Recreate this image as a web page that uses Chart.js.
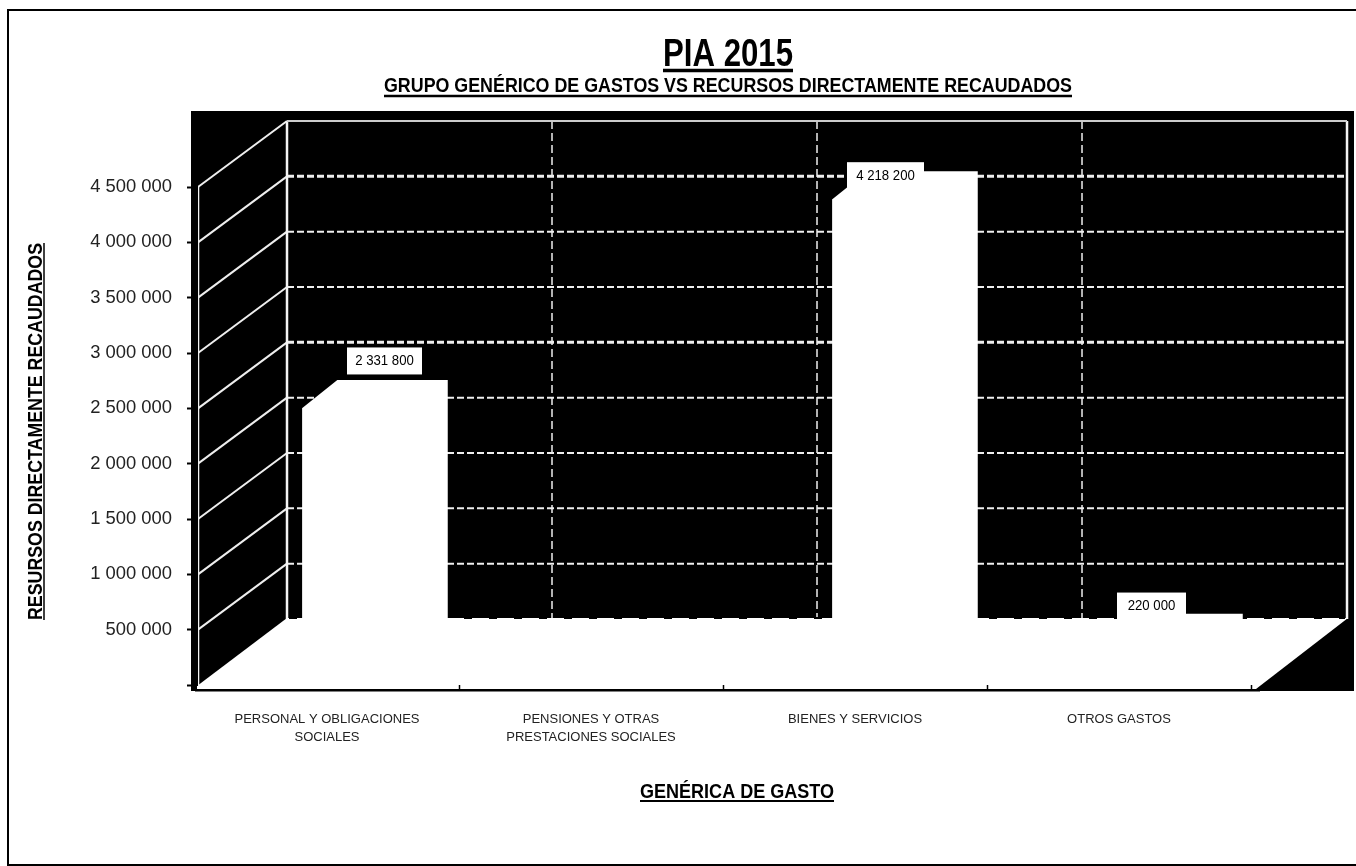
<!DOCTYPE html>
<html>
<head>
<meta charset="utf-8">
<title>PIA 2015</title>
<script src="https://cdn.jsdelivr.net/npm/chart.js@4"></script>
<style>
  html, body { margin: 0; padding: 0; background: #fff; }
  canvas { display: block; }
</style>
</head>
<body>
<canvas id="chart" width="1356" height="866"></canvas>
<script>
const categories = [
    ["PERSONAL Y OBLIGACIONES", "SOCIALES"],
    ["PENSIONES Y OTRAS", "PRESTACIONES SOCIALES"],
    "BIENES Y SERVICIOS",
    "OTROS GASTOS"
];
const values = [2331800, 0, 4218200, 220000];
const yMax = 4500000;
const yStep = 500000;
const chartTitle = "PIA 2015";
const chartSubtitle = "GRUPO GENÉRICO DE GASTOS VS RECURSOS DIRECTAMENTE RECAUDADOS";
const yTitle = "RESURSOS DIRECTAMENTE RECAUDADOS";
const xTitle = "GENÉRICA DE GASTO";

const FONT = '"Liberation Sans", Arial, sans-serif';

// fake 3D: how far the back wall sits from the front plane
const WALL_DX = 92, WALL_DY = -66, WALL_STRETCH = 1.0038;
// the bars stand part way into the floor
const BAR_SHIFT = 29.3, BAR_RISE = -19, BAR_DEPTH_X = 35, BAR_DEPTH_Y = -28;
// label boxes were moved by hand in the original: offset from bar top, box width
const labelBoxes = [
    { dx: 57.5, dy: -66, w: 75 },
    null,
    { dx: 30.5, dy: -42.5, w: 77 },
    { dx: 32.5, dy: -54.6, w: 69 }
];

function formatNumber(v) {
    return String(v).replace(/\B(?=(\d{3})+$)/g, " ");
}

function wallX(area, px) {
    return area.left + WALL_DX + (px - area.left) * WALL_STRETCH;
}

function line(ctx, x1, y1, x2, y2) {
    ctx.beginPath();
    ctx.moveTo(x1, y1);
    ctx.lineTo(x2, y2);
    ctx.stroke();
}

// the original text is tall and squeezed, so fit it to a width
function underlined(ctx, text, x, y, font, width, gap, lineWidth) {
    ctx.save();
    ctx.translate(x, y);
    ctx.font = font;
    ctx.textAlign = "center";
    ctx.textBaseline = "alphabetic";
    ctx.fillStyle = "#000";
    ctx.save();
    ctx.scale(width / ctx.measureText(text).width, 1);
    ctx.fillText(text, 0, 0);
    ctx.restore();
    ctx.strokeStyle = "#000";
    ctx.lineWidth = lineWidth;
    line(ctx, -width / 2, gap, width / 2, gap);
    ctx.restore();
}

const wallsPlugin = {
    id: "walls",
    beforeDraw(chart) {
        const { ctx, chartArea: a, scales } = chart;
        const y = scales.y;
        const top = y.getPixelForValue(yMax);
        const zero = y.getPixelForValue(0);
        const backLeft = wallX(a, a.left);
        const backRight = wallX(a, a.right);
        const backZero = zero + WALL_DY;
        const catWidth = a.width / categories.length;
        ctx.save();

        // frame, open on the right
        ctx.strokeStyle = "#000";
        ctx.lineWidth = 2;
        ctx.beginPath();
        ctx.moveTo(1356, 10);
        ctx.lineTo(8, 10);
        ctx.lineTo(8, 865);
        ctx.lineTo(1356, 865);
        ctx.stroke();

        // black background
        ctx.fillStyle = "#000";
        ctx.fillRect(a.left - 4, 111, 1354 - a.left + 4, zero + 6 - 111);

        // back wall gridlines
        ctx.strokeStyle = "#eee";
        for (let v = yStep; v < yMax; v += yStep) {
            const py = y.getPixelForValue(v) + WALL_DY;
            const heavy = v === 4000000 || v === 2500000;
            ctx.lineWidth = heavy ? 3 : 2;
            ctx.setLineDash([7, 3]);
            line(ctx, backLeft, py, backRight, py);
        }
        ctx.lineWidth = 1.5;
        ctx.setLineDash([8, 4]);
        for (let i = 1; i < categories.length; i++) {
            const px = wallX(a, a.left + i * catWidth);
            line(ctx, px, top + WALL_DY, px, backZero);
        }
        ctx.setLineDash([]);

        // side wall lines
        ctx.lineWidth = 2;
        for (let v = yStep; v <= yMax; v += yStep) {
            const py = y.getPixelForValue(v);
            line(ctx, a.left + 3, py, backLeft, py + WALL_DY);
        }

        // wall outline
        ctx.strokeStyle = "#f4f4f4";
        ctx.lineWidth = 2.5;
        line(ctx, a.left + 3, top, a.left + 3, zero);
        line(ctx, backLeft, top + WALL_DY, backLeft, backZero);
        line(ctx, backRight, top + WALL_DY, backRight, backZero);
        ctx.strokeStyle = "#ccc";
        ctx.lineWidth = 2;
        line(ctx, backLeft, top + WALL_DY, backRight, top + WALL_DY);

        // floor
        ctx.fillStyle = "#fff";
        ctx.beginPath();
        ctx.moveTo(a.left + 2, zero + 4);
        ctx.lineTo(a.left + 2, zero + 1);
        ctx.lineTo(backLeft, backZero - 1);
        ctx.lineTo(backRight + 1, backZero - 1);
        ctx.lineTo(a.right + 5, zero + 4);
        ctx.closePath();
        ctx.fill();

        // notches along the back edge of the floor
        ctx.strokeStyle = "#000";
        ctx.lineWidth = 2;
        ctx.setLineDash([8, 17]);
        line(ctx, backLeft + 2, backZero - 1, backRight - 2, backZero - 1);
        ctx.setLineDash([]);

        // x axis line sits a little under the zero of the y axis
        ctx.lineWidth = 2;
        line(ctx, a.left, zero + 5.5, a.right + 9, zero + 5.5);

        // texts
        underlined(ctx, chartTitle, 728, 65.5, "bold 38px " + FONT, 130, 5, 3.5);
        underlined(ctx, chartSubtitle, 728, 92, "bold 19.5px " + FONT, 688, 4, 2.5);
        underlined(ctx, xTitle, 737, 798, "bold 19.5px " + FONT, 194, 3, 2);
        ctx.translate(41.5, 431.5);
        ctx.rotate(-Math.PI / 2);
        underlined(ctx, yTitle, 0, 0, "bold 19.5px " + FONT, 377, 2.5, 1.5);
        ctx.restore();
    },
    // body of each bar running back from its front face
    beforeDatasetsDraw(chart) {
        const { ctx } = chart;
        ctx.save();
        ctx.fillStyle = "#fff";
        chart.getDatasetMeta(0).data.forEach((bar, i) => {
            if (!values[i]) return;
            const l = WALL_STRETCH * (bar.x - bar.width / 2) + BAR_SHIFT;
            const r = WALL_STRETCH * (bar.x + bar.width / 2) + BAR_SHIFT;
            const t = bar.y + BAR_RISE;
            const b = bar.base + BAR_RISE;
            ctx.beginPath();
            ctx.moveTo(l, t);
            ctx.lineTo(l + BAR_DEPTH_X, t + BAR_DEPTH_Y);
            ctx.lineTo(r + BAR_DEPTH_X, t + BAR_DEPTH_Y);
            ctx.lineTo(r + BAR_DEPTH_X, b + BAR_DEPTH_Y);
            ctx.lineTo(r, b);
            ctx.lineTo(l, b);
            ctx.closePath();
            ctx.fill();
        });
        ctx.restore();
    },
    beforeDatasetDraw(chart) {
        chart.ctx.save();
        chart.ctx.transform(WALL_STRETCH, 0, 0, 1, BAR_SHIFT, BAR_RISE);
    },
    afterDatasetDraw(chart) {
        chart.ctx.restore();
    },
    afterDatasetsDraw(chart) {
        const { ctx } = chart;
        chart.getDatasetMeta(0).data.forEach((bar, i) => {
            const box = labelBoxes[i];
            if (!box) return;
            const cx = bar.x + box.dx, cy = bar.y + box.dy;
            ctx.save();
            ctx.fillStyle = "#fff";
            ctx.fillRect(cx - box.w / 2, cy - 13.5, box.w, 27);
            ctx.translate(cx, cy);
            ctx.scale(0.88, 1);
            ctx.font = "15px " + FONT;
            ctx.textAlign = "center";
            ctx.textBaseline = "middle";
            ctx.fillStyle = "#000";
            ctx.fillText(formatNumber(values[i]), 0, 0);
            ctx.restore();
        });
    }
};

new Chart(document.getElementById("chart"), {
    type: "bar",
    data: {
        labels: categories,
        datasets: [{
            data: values,
            backgroundColor: "#fff",
            borderWidth: 0,
            categoryPercentage: 1,
            barPercentage: 110 / 264,
            clip: false
        }]
    },
    options: {
        responsive: false,
        animation: false,
        layout: { padding: { left: 0, top: 187, right: 105, bottom: 0 } },
        plugins: {
            legend: { display: false },
            tooltip: { enabled: false }
        },
        scales: {
            x: {
                afterFit(scale) { scale.height = 181; },
                grid: { drawOnChartArea: false, color: "#000", tickLength: 5, tickColor: "#000", tickWidth: 1.5 },
                border: { display: false },
                ticks: {
                    maxRotation: 0,
                    autoSkip: false,
                    padding: 20,
                    color: "#222",
                    font: { family: FONT, size: 13, lineHeight: 1.4 }
                }
            },
            y: {
                min: 0,
                max: yMax,
                afterFit(scale) { scale.width = 195; },
                grid: { drawOnChartArea: false, tickLength: 8, tickColor: "#000", tickWidth: 2 },
                border: { display: true, color: "#000", width: 5 },
                ticks: {
                    stepSize: yStep,
                    padding: 15,
                    color: "#222",
                    font: { family: FONT, size: 18.4 },
                    callback: v => (v === 0 ? "" : formatNumber(v))
                }
            }
        }
    },
    plugins: [wallsPlugin]
});
</script>
</body>
</html>
